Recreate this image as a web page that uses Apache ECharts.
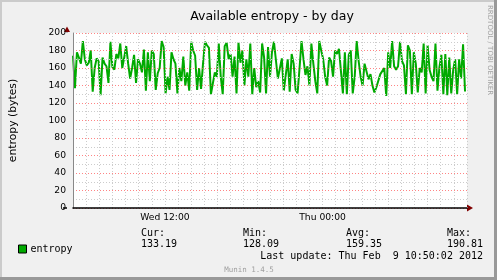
<!DOCTYPE html>
<html><head><meta charset="utf-8">
<script src="https://cdn.jsdelivr.net/npm/echarts@6/dist/echarts.min.js"></script>
<style>html,body{margin:0;padding:0;background:#f0f0f0;overflow:hidden}#c{width:497px;height:280px}</style>
</head><body><div id="c"></div>
<script>
// time of first sample, in hours since Wed 00:00, and sample spacing (hours)
const startHour = 5;
const stepHours = 0.15;
// available entropy (bytes)
const entropy = [
  174,137,178,172,165,190.8,170,163,166,180,133,160,171,168,129,172,165,162,143,190,161,158,176,171,188,160,172,185,165,148,160,175,143,170,
  165,155,181,134,178,145,180,176,135,154,160,190.8,184,131,150,135,178,170,165,131,160,145,173,140,155,134,190,180,174,135,160,136,165,190,
  186,183,130,132,155,150,188,150,130,185,189,170,176,150,173,131,189,166,180,140,170,150,188,130,160,138,145,132,188,172,131,184,150,178,
  190,188,148,147,171,134,132,170,133,176,165,135,131,160,190.81,170,152,162,140,188,165,145,131,190.8,180,170,150,140,172,168,150,180,176,182,
  180,131,178,130,175,180,131,150,190.8,168,150,140,165,163,147,153,140,132,138,137,153,152,160,128.09,178,160,190.8,162,158,162,190,168,163,130,
  186,180,130,178,165,132,160,155,188,131,186,158,150,145,188,134,161,175,130,176,129,172,131,158,170,130,170,148,187,133.19
];
const xMin = 5, xMax = 35;                 // Wed 05:00 .. Thu 11:00
const majorHours = [6, 12, 18, 24, 30];    // major (red) vertical grid
const xTickLabels = {12: 'Wed 12:00', 24: 'Thu 00:00'};
const seriesName = 'entropy';
const statLabels = ['Cur:', 'Min:', 'Avg:', 'Max:'];
const statValues = ['133.19', '128.09', '159.35', '190.81'];
const lastUpdate = 'Last update: Thu Feb  9 10:50:02 2012';
const titleText = 'Available entropy - by day';
const yName = 'entropy (bytes)';
const watermark = 'RRDTOOL / TOBI OETIKER';
const footer = 'Munin 1.4.5';

const data = entropy.map((v, i) => [startHour + i * stepHours, v]);

const GRID = '#cccccc', MGRID = '#ff5050', SANS = 'DejaVu Sans', MONO = 'DejaVu Sans Mono';
const statX = [141, 243, 346, 447];

const graphic = [
  {type:'rect', shape:{x:0,y:0,width:497,height:2}, style:{fill:'#cbcbcb'}, silent:true},
  {type:'rect', shape:{x:0,y:0,width:2,height:280}, style:{fill:'#cbcbcb'}, silent:true},
  {type:'rect', shape:{x:494,y:0,width:3,height:280}, style:{fill:'#999999'}, silent:true},
  {type:'rect', shape:{x:0,y:277,width:497,height:3}, style:{fill:'#999999'}, silent:true},
  {type:'line', shape:{x1:67,y1:33,x2:67,y2:29}, style:{stroke:'#888',lineWidth:1}, silent:true},
  {type:'polygon', shape:{points:[[64,32],[70,32],[67,26.5]]}, style:{fill:'#800000'}, silent:true},
  {type:'line', shape:{x1:63,y1:208,x2:67,y2:208}, style:{stroke:'#000',lineWidth:1.5}, silent:true},
  {type:'polygon', shape:{points:[[467,204.5],[467,211.5],[473,208]]}, style:{fill:'#800000'}, silent:true},
  {type:'text', x:490, y:5, rotation:-Math.PI/2, style:{text:watermark, fill:'#a0a0a0', font:'7px "'+SANS+'"', textAlign:'left', textVerticalAlign:'middle'}, silent:true},
  {type:'text', x:249, y:270, style:{text:footer, fill:'#a0a0a0', font:'7.5px "'+MONO+'"', textAlign:'center', textVerticalAlign:'middle'}, silent:true},
  {type:'text', x:483, y:256, style:{text:lastUpdate, fill:'#000', font:'10px "'+MONO+'"', textAlign:'right', textVerticalAlign:'middle'}, silent:true}
];
statLabels.forEach((s, i) => {
  graphic.push({type:'text', x:statX[i], y:233, style:{text:s, fill:'#000', font:'10px "'+MONO+'"', textAlign:'left', textVerticalAlign:'middle'}, silent:true});
  graphic.push({type:'text', x:statX[i], y:244, style:{text:statValues[i], fill:'#000', font:'10px "'+MONO+'"', textAlign:'left', textVerticalAlign:'middle'}, silent:true});
});

const chart = echarts.init(document.getElementById('c'), null, {renderer:'canvas'});
chart.setOption({
  backgroundColor: '#f0f0f0',
  animation: false,
  title: {text: titleText, left: 267, top: 5, textAlign: 'center',
    textStyle: {fontFamily: SANS, fontSize: 12.5, fontWeight: 'normal', color: '#000'}},
  legend: {left: 13, top: 239, itemWidth: 8, itemHeight: 8, itemGap: 10,
    icon: 'rect', data: [seriesName],
    itemStyle: {borderColor: '#000', borderWidth: 1},
    textStyle: {fontFamily: MONO, fontSize: 10, color: '#000', padding: [0,0,0,-1]}},
  grid: {left: 67, right: 30, top: 33, bottom: 72, backgroundColor: '#fff', show: true, borderWidth: 0},
  xAxis: {
    type: 'value', min: xMin, max: xMax, interval: 1, z: 10,
    axisLine: {show: true, onZero: false, lineStyle: {color: '#000', width: 1.5}},
    axisTick: {show: false},
    axisLabel: {margin: 5, fontFamily: SANS, fontSize: 9.2, color: '#000',
      formatter: v => xTickLabels[v] || '', showMinLabel: true, showMaxLabel: true},
    splitLine: {show: true, lineStyle: {color: GRID, type: [1, 2], width: 1}}
  },
  yAxis: {
    type: 'value', min: 0, max: 200, interval: 20, z: 10,
    name: yName, nameLocation: 'middle', nameRotate: 90, nameGap: 54,
    nameTextStyle: {fontFamily: SANS, fontSize: 10.8, color: '#000'},
    axisLine: {show: true, lineStyle: {color: '#888', width: 1}},
    axisTick: {show: false},
    minorTick: {show: false, splitNumber: 2},
    axisLabel: {margin: 7, fontFamily: SANS, fontSize: 9.2, color: '#000'},
    splitLine: {show: true, lineStyle: {color: MGRID, type: [1, 2], width: 1, opacity: 0.7}},
    minorSplitLine: {show: true, lineStyle: {color: GRID, type: [1, 2], width: 1}}
  },
  graphic: graphic,
  series: [{
    name: seriesName, type: 'line', data: data, showSymbol: false, symbol: 'none',
    lineStyle: {color: '#00aa00', width: 2}, itemStyle: {color: '#00aa00'},
    z: 3,
    markLine: {silent: true, symbol: 'none', label: {show: false}, z: 9,
      emphasis: {disabled: true},
      lineStyle: {color: MGRID, type: [1, 2], width: 1, opacity: 0.7},
      data: majorHours.map(h => ({xAxis: h}))}
  }]
});
</script></body></html>
